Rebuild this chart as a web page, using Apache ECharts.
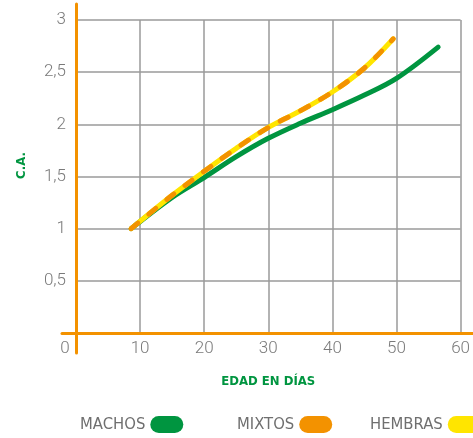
<!DOCTYPE html>
<html>
<head>
<meta charset="utf-8">
<script src="https://cdn.jsdelivr.net/npm/echarts@6/dist/echarts.min.js"></script>
<style>
html,body{margin:0;padding:0;background:#fff;}
#c{width:473px;height:438px;}
</style>
</head>
<body>
<div id="c"></div>
<script>
const seriesNames = ['MACHOS', 'MIXTOS', 'HEMBRAS'];
const machos = [[8.6,1.0],[15,1.30],[20,1.49],[25,1.69],[30,1.866],[35,2.01],[40,2.14],[45,2.28],[50,2.44],[56.5,2.74]];
const mixtos = [[8.6,1.0],[15,1.32],[20,1.55],[25,1.77],[30,1.97],[35,2.13],[40,2.31],[45,2.54],[49.5,2.82]];
const hembras = [[8.6,1.0],[15,1.32],[20,1.55],[25,1.77],[30,1.97],[35,2.13],[40,2.31],[45,2.54],[49.5,2.82]];
const xTickLabels = ['0','10','20','30','40','50','60'];
const yTickLabels = ['','0,5','1','1,5','2','2,5','3'];

const GREEN = '#009540', ORANGE = '#f39200', YELLOW = '#ffe500';
const NARROW = '"Liberation Sans Narrow","DejaVu Sans Condensed",sans-serif';
const pill = 'path://M8.5,0 H24.5 A8.5,8.5 0 0 1 24.5,17 H8.5 A8.5,8.5 0 0 1 8.5,0 Z';

function legendFor(name, left) {
  return {
    data: [name], left: left, top: 416, padding: 0, align: 'right', icon: pill,
    itemWidth: 33, itemHeight: 17,
    textStyle: {color: '#6f6f6f', fontSize: 16.5, fontFamily: NARROW},
    itemStyle: {borderWidth: 0}, lineStyle: {width: 0}
  };
}

const chart = echarts.init(document.getElementById('c'));
chart.setOption({
  animation: false,
  grid: [
    {left: 76, top: 20, width: 386, height: 313},
    {left: 62, top: 4, right: 0, bottom: 85}
  ],
  xAxis: [
    {
      gridIndex: 0, type: 'value', min: 0, max: 60, interval: 10,
      axisLine: {show: false}, axisTick: {show: false},
      splitLine: {show: true, lineStyle: {color: '#9a9a9a', width: 1.5}},
      axisLabel: {
        color: '#7a7a7a', fontSize: 17, fontFamily: 'Roboto', fontWeight: 300, margin: 7,
        formatter: function (v) { const i = Math.round(v / 10); return i === 0 ? '{z|' + xTickLabels[0] + '}' : xTickLabels[i]; },
        rich: {z: {color: '#7a7a7a', fontSize: 17, fontFamily: 'Roboto', fontWeight: 300, padding: [0, 22, 0, 0]}}
      },
      name: 'EDAD EN DÍAS', nameLocation: 'middle', nameGap: 42,
      nameTextStyle: {color: GREEN, fontSize: 13, fontFamily: NARROW, fontWeight: 'bold'}
    },
    {
      gridIndex: 1, type: 'value', min: -2.176, max: 61.71, z: 3,
      axisLine: {show: true, onZero: true, lineStyle: {color: ORANGE, width: 3}},
      axisTick: {show: false}, axisLabel: {show: false}, splitLine: {show: false}
    }
  ],
  yAxis: [
    {
      gridIndex: 0, type: 'value', min: 0, max: 3, interval: 0.5,
      axisLine: {show: false}, axisTick: {show: false},
      splitLine: {show: true, lineStyle: {color: '#9a9a9a', width: 1.5}},
      axisLabel: {
        color: '#7a7a7a', fontSize: 17, fontFamily: 'Roboto', fontWeight: 300, margin: 10,
        formatter: function (v) { return yTickLabels[Math.round(v / 0.5)]; }
      },
      name: 'C.A.', nameLocation: 'middle', nameGap: 48,
      nameTextStyle: {color: GREEN, fontSize: 13, fontFamily: NARROW, fontWeight: 'bold', padding: [0, 0, 0, 22]}
    },
    {
      gridIndex: 1, type: 'value', min: -0.1917, max: 3.153, z: 3,
      axisLine: {show: true, onZero: true, lineStyle: {color: ORANGE, width: 3}},
      axisTick: {show: false}, axisLabel: {show: false}, splitLine: {show: false}
    }
  ],
  legend: [legendFor(seriesNames[0], 80), legendFor(seriesNames[1], 237), legendFor(seriesNames[2], 370)],
  series: [
    {name: 'MACHOS', type: 'line', xAxisIndex: 0, yAxisIndex: 0, data: machos, smooth: 0.35, showSymbol: false, z: 4,
     color: GREEN, lineStyle: {color: GREEN, width: 5, cap: 'round'}},
    {name: 'HEMBRAS', type: 'line', xAxisIndex: 0, yAxisIndex: 0, data: hembras, smooth: 0.35, showSymbol: false, z: 5,
     color: YELLOW, lineStyle: {color: YELLOW, width: 5, cap: 'round'}},
    {name: 'MIXTOS', type: 'line', xAxisIndex: 0, yAxisIndex: 0, data: mixtos, smooth: 0.35, showSymbol: false, z: 6,
     color: ORANGE, lineStyle: {color: ORANGE, width: 5, cap: 'round', type: [9, 14]}}
  ]
});
</script>
</body>
</html>
